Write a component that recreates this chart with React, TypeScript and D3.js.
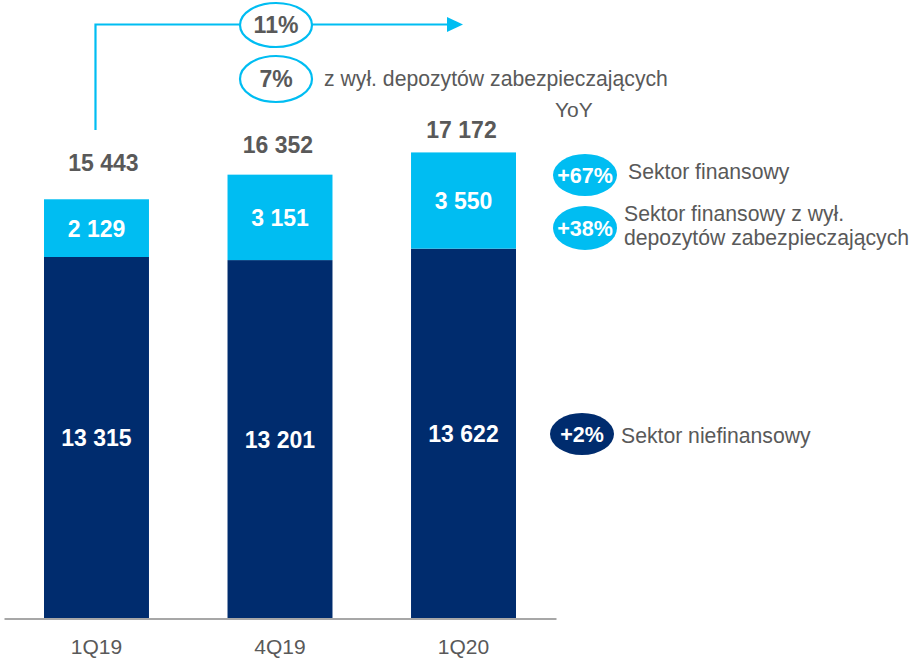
import { useEffect, useRef } from 'react';
import { scaleBand, scaleLinear, select, axisBottom } from 'd3';

// data (mln PLN)
const quarters = ['1Q19', '4Q19', '1Q20'];
const nonFinancial = [13315, 13201, 13622];
const financial = [2129, 3151, 3550];
const totals = [15443, 16352, 17172];

const growthTotal = '11%';
const growthExDeposits = '7%';
const yoyLabels = ['+67%', '+38%', '+2%'];
const legendTexts = [
  ['Sektor finansowy'],
  ['Sektor finansowy z wył.', 'depozytów zabezpieczających'],
  ['Sektor niefinansowy'],
];

const fmt = (v: number) => {
  const s = String(v);
  return s.replace(/\B(?=(\d{3})+(?!\d))/g, ' ');
};

const CYAN = '#00BDF2';
const NAVY = '#002C6E';
const GREY = '#595959';
const FONT = '"Liberation Sans", Arial, sans-serif';

const App = () => {
  const axisRef = useRef<SVGGElement>(null);

  const x = scaleBand<string>()
    .domain(quarters)
    .range([4, 556])
    .paddingInner(0.428)
    .paddingOuter(0.218);

  const y = scaleLinear().domain([0, 22794]).range([618, 0]);

  useEffect(() => {
    const g = select(axisRef.current);
    g.call(axisBottom(x).tickSize(0).tickPadding(21) as any);
    g.select('.domain').attr('stroke', '#8a8a8a').attr('stroke-width', 1.5);
    g.selectAll('text')
      .attr('font-family', FONT)
      .attr('font-size', 21)
      .attr('fill', GREY);
  }, []);

  // total labels sit a bit unevenly above the bars in the original slide
  const totalLift = [28, 22, 14];
  const totalShift = [7, -2, -2];
  const bw = x.bandwidth();
  const cx = (q: string) => (x(q) as number) + bw / 2;
  const arrowX = cx(quarters[0]) - 1;

  return (
    <svg
      width={914}
      height={660}
      style={{ display: 'block', position: 'absolute', left: 0, top: 0 }}
      fontFamily={FONT}
    >
      {/* growth arrow */}
      <path d={`M${arrowX},130 V24.5 H449`} fill="none" stroke={CYAN} strokeWidth={2.2} />
      <polygon points="447,17 463,24.5 447,32" fill={CYAN} />
      <ellipse cx={276} cy={25} rx={36} ry={22} fill="white" stroke={CYAN} strokeWidth={2.2} />
      <text x={276} y={33} textAnchor="middle" fontSize={23} fontWeight="bold" fill={GREY}>
        {growthTotal}
      </text>
      <ellipse cx={276} cy={79} rx={36} ry={23} fill="white" stroke={CYAN} strokeWidth={2.2} />
      <text x={276} y={87} textAnchor="middle" fontSize={23} fontWeight="bold" fill={GREY}>
        {growthExDeposits}
      </text>
      <text x={324} y={86} fontSize={21.2} fill={GREY}>
        z wył. depozytów zabezpieczających
      </text>
      <text x={555} y={117} fontSize={21} fill={GREY}>
        YoY
      </text>

      {/* stacked bars */}
      {quarters.map((q, i) => {
        const x0 = x(q) as number;
        const yNF = y(nonFinancial[i]);
        const yTop = y(nonFinancial[i] + financial[i]);
        return (
          <g key={q}>
            <rect x={x0} y={yNF} width={bw} height={y(0) - yNF} fill={NAVY} />
            <rect x={x0} y={yTop} width={bw} height={yNF - yTop} fill={CYAN} />
            <text
              x={cx(q)}
              y={(yNF + y(0)) / 2 + 8.5}
              textAnchor="middle"
              fontSize={23}
              fontWeight="bold"
              fill="white"
            >
              {fmt(nonFinancial[i])}
            </text>
            <text
              x={cx(q)}
              y={(yTop + yNF) / 2 + 8.5}
              textAnchor="middle"
              fontSize={23}
              fontWeight="bold"
              fill="white"
            >
              {fmt(financial[i])}
            </text>
            <text
              x={cx(q) + totalShift[i]}
              y={y(totals[i]) - totalLift[i]}
              textAnchor="middle"
              fontSize={23}
              fontWeight="bold"
              fill={GREY}
            >
              {fmt(totals[i])}
            </text>
          </g>
        );
      })}

      <g ref={axisRef} transform={`translate(0,${y(0) + 0.5})`} />

      {/* YoY legend */}
      <ellipse cx={585} cy={175} rx={32} ry={21} fill={CYAN} />
      <text x={585} y={183} textAnchor="middle" fontSize={21.5} fontWeight="bold" fill="white">
        {yoyLabels[0]}
      </text>
      <text x={628} y={179} fontSize={21.2} fill={GREY}>
        {legendTexts[0][0]}
      </text>

      <ellipse cx={585} cy={228} rx={32} ry={22} fill={CYAN} />
      <text x={585} y={236} textAnchor="middle" fontSize={21.5} fontWeight="bold" fill="white">
        {yoyLabels[1]}
      </text>
      <text x={624} y={221} fontSize={21.2} fill={GREY}>
        {legendTexts[1][0]}
      </text>
      <text x={624} y={245} fontSize={21.2} fill={GREY}>
        {legendTexts[1][1]}
      </text>

      <ellipse cx={582} cy={434} rx={32} ry={21} fill={NAVY} />
      <text x={582} y={442} textAnchor="middle" fontSize={21.5} fontWeight="bold" fill="white">
        {yoyLabels[2]}
      </text>
      <text x={621} y={443} fontSize={21.2} fill={GREY}>
        {legendTexts[2][0]}
      </text>
    </svg>
  );
};

export default App;
